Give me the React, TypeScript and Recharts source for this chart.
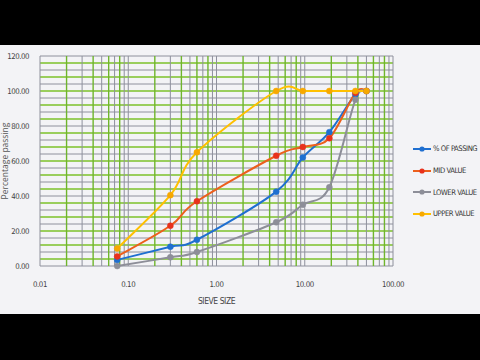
import React from 'react';
import {
  LineChart,
  Line,
  XAxis,
  YAxis,
  ReferenceLine,
} from 'recharts';

// sieve sizes (mm) and the four grading curves
const sieveSizes = [0.075, 0.3, 0.6, 4.75, 9.5, 19, 37.5, 50];
const passing = [3.5, 11, 15, 42.5, 62, 76.5, 98, 100];
const midValue = [5.5, 23, 37, 63, 68, 73, 99, 100];
const lowerValue = [0, 5, 8, 25, 35, 45, 95, 100];
const upperValue = [10, 40.5, 65, 100, 100, 100, 100, 100];

const xTicks = [0.01, 0.1, 1, 10, 100];
const yTicks = [0, 20, 40, 60, 80, 100, 120];

const series = [
  { key: 'passing', name: '% OF PASSING', stroke: '#1f6fd0', dot: '#1f6fd0' },
  { key: 'mid', name: 'MID VALUE', stroke: '#ec5f1c', dot: '#e8311c' },
  { key: 'lower', name: 'LOWER VALUE', stroke: '#8d8e98', dot: '#8d8e98' },
  { key: 'upper', name: 'UPPER VALUE', stroke: '#ffc000', dot: '#f7a800' },
];

const rows = sieveSizes.map((size, i) => ({
  size,
  passing: passing[i],
  mid: midValue[i],
  lower: lowerValue[i],
  upper: upperValue[i],
}));

// grid: log minor lines on x, dense alternating lines on y
const xGrid: { v: number; green: boolean }[] = [];
[0.01, 0.1, 1, 10].forEach((d) => {
  for (let n = 1; n <= 9; n++) {
    xGrid.push({ v: d * n, green: n > 1 && n % 2 === 0 });
  }
});
xGrid.push({ v: 100, green: false });
const yGrid: { v: number; green: boolean }[] = [];
for (let v = 0; v <= 120; v += 4) yGrid.push({ v, green: v % 8 !== 0 });

// excel-ish smoothed line (bezier through points)
const smoothCurve = (ctx: any) => {
  let pts: number[][] = [];
  return {
    areaStart() {},
    areaEnd() {},
    lineStart() {
      pts = [];
    },
    point(x: number, y: number) {
      pts.push([+x, +y]);
    },
    lineEnd() {
      if (!pts.length) return;
      ctx.moveTo(pts[0][0], pts[0][1]);
      for (let i = 0; i < pts.length - 1; i++) {
        const p0 = pts[i - 1] || pts[i];
        const p1 = pts[i];
        const p2 = pts[i + 1];
        const p3 = pts[i + 2] || p2;
        ctx.bezierCurveTo(
          p1[0] + (p2[0] - p0[0]) / 6,
          p1[1] + (p2[1] - p0[1]) / 6,
          p2[0] - (p3[0] - p1[0]) / 6,
          p2[1] - (p3[1] - p1[1]) / 6,
          p2[0],
          p2[1]
        );
      }
    },
  };
};

const font = '"DejaVu Sans", sans-serif';
const narrow = { fontFamily: font, fontStretch: 'condensed' as const };
const tickStyle = { fontSize: 7.8, fill: '#444', ...narrow, letterSpacing: -0.45 };

function ChartLegend() {
  return (
    <div
      style={{
        position: 'absolute',
        left: 413,
        top: 138,
        ...narrow,
        fontSize: 7.6,
        letterSpacing: -0.45,
        color: '#333',
        whiteSpace: 'nowrap',
      }}
    >
      {series.map((s) => (
        <div
          key={s.key}
          style={{ display: 'flex', alignItems: 'center', height: 21.7 }}
        >
          <svg width={18} height={8} style={{ marginRight: 2 }}>
            <line x1={0} y1={4} x2={18} y2={4} stroke={s.stroke} strokeWidth={2} />
            <circle cx={9} cy={4} r={2.6} fill={s.dot} />
          </svg>
          <span>{s.name}</span>
        </div>
      ))}
    </div>
  );
}

export default function App() {
  return (
    <div
      style={{
        position: 'fixed',
        left: 0,
        top: 0,
        width: 480,
        height: 360,
        background: '#000',
      }}
    >
      <div
        style={{
          position: 'absolute',
          left: 0,
          top: 45,
          width: 480,
          height: 269,
          background: '#f3f3f6',
        }}
      />
      <div style={{ position: 'absolute', left: 0, top: 0 }}>
        <LineChart
          width={480}
          height={360}
          data={rows}
          margin={{ top: 56, right: 87, left: 0, bottom: 50 }}
        >
          <XAxis
            dataKey="size"
            type="number"
            scale="log"
            domain={[0.01, 100]}
            ticks={xTicks}
            allowDataOverflow
            tickFormatter={(v: number) => v.toFixed(2)}
            tick={tickStyle}
            axisLine={false}
            tickLine={false}
            tickMargin={9}
            height={44}
            label={{
              value: 'SIEVE SIZE',
              position: 'insideBottom',
              offset: 6,
              style: { ...tickStyle, fontSize: 8.5 },
            }}
          />
          <YAxis
            type="number"
            domain={[0, 120]}
            ticks={yTicks}
            tickFormatter={(v: number) => v.toFixed(2)}
            tick={tickStyle}
            axisLine={false}
            tickLine={false}
            tickMargin={5}
            width={40}
            label={{
              value: 'Percentage passing',
              angle: -90,
              position: 'insideLeft',
              offset: 5,
              style: {
                textAnchor: 'middle',
                fontSize: 8.5,
                fill: '#555',
                fontFamily: '"Open Sans", sans-serif',
              },
            }}
          />
          {yGrid.map((g) => (
            <ReferenceLine
              key={'y' + g.v}
              y={g.v}
              stroke={g.green ? '#7cc22a' : '#8e909c'}
              strokeWidth={g.green ? 1.6 : 1}
            />
          ))}
          {xGrid.map((g) => (
            <ReferenceLine
              key={'x' + g.v}
              x={g.v}
              stroke={g.green ? '#6fb52c' : '#8e909c'}
              strokeWidth={g.green ? 1.4 : 1}
            />
          ))}
          {series.map((s) => (
            <Line
              key={s.key}
              dataKey={s.key}
              name={s.name}
              type={smoothCurve as any}
              stroke={s.stroke}
              strokeWidth={2}
              dot={{ r: 3, fill: s.dot, stroke: s.dot, strokeWidth: 0.5 }}
              isAnimationActive={false}
            />
          ))}
        </LineChart>
      </div>
      <ChartLegend />
    </div>
  );
}
